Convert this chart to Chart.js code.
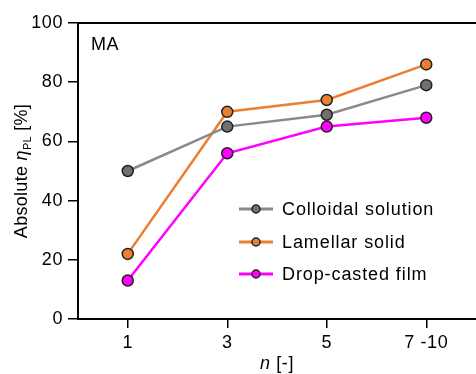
<!DOCTYPE html>
<html>
<head>
<meta charset="utf-8">
<script src="https://cdn.jsdelivr.net/npm/chart.js@4/dist/chart.umd.min.js"></script>
<style>
  html, body { margin: 0; padding: 0; background: #fff; }
  #wrap { width: 476px; height: 374px; position: relative; }
</style>
</head>
<body>
<div id="wrap"><canvas id="c" width="476" height="374"></canvas></div>
<script>
const categories = ['1', '3', '5', '7 -10'];
const colloidal = [50, 65, 69, 79];
const lamellar = [22, 70, 74, 86];
const dropCast = [13, 56, 65, 68];
const yTicks = [0, 20, 40, 60, 80, 100];

const FONT = 'Liberation Sans, Arial, sans-serif';

function series(label, data, line, fill) {
  return {
    label, data,
    borderColor: line, backgroundColor: fill,
    borderWidth: 2.5, tension: 0,
    pointRadius: 5.5, pointBorderWidth: 1.5,
    pointBorderColor: '#222', pointBackgroundColor: fill,
  };
}

const decor = {
  id: 'decor',
  beforeDraw(chart) {
    chart.ctx.letterSpacing = '0.6px';
  },
  afterDraw(chart) {
    const { ctx, chartArea: a } = chart;
    ctx.save();
    ctx.fillStyle = '#000';
    ctx.textBaseline = 'alphabetic';
    // panel label
    ctx.font = '18px ' + FONT;
    ctx.textAlign = 'left';
    ctx.fillText('MA', 91, 50);

    // x title: n [-]
    const cx = (a.left + a.right) / 2;
    ctx.font = 'italic 18px ' + FONT;
    const nW = ctx.measureText('n ').width;
    ctx.font = '18px ' + FONT;
    const rW = ctx.measureText('[-]').width;
    let x0 = cx - (nW + rW) / 2;
    ctx.font = 'italic 18px ' + FONT;
    ctx.fillText('n', x0, 369);
    ctx.font = '18px ' + FONT;
    ctx.fillText('[-]', x0 + nW, 369);

    // y title: Absolute ηPL [%]
    ctx.translate(27, (a.top + a.bottom) / 2);
    ctx.rotate(-Math.PI / 2);
    ctx.letterSpacing = '0.3px';
    const parts = [
      ['Absolute ', '18px ', 0],
      ['η', 'italic 18px ', 0],
      ['PL', '11px ', 4],
      [' [%]', '18px ', 0],
    ];
    let total = 0;
    parts.forEach(p => { ctx.font = p[1] + FONT; total += ctx.measureText(p[0]).width; });
    let px = -total / 2;
    parts.forEach(p => {
      ctx.font = p[1] + FONT;
      ctx.fillText(p[0], px, p[2]);
      px += ctx.measureText(p[0]).width;
    });
    ctx.restore();

    // legend
    ctx.save();
    const rows = [209, 242, 274];
    chart.data.datasets.forEach((ds, i) => {
      const y = rows[i];
      ctx.strokeStyle = ds.borderColor;
      ctx.lineWidth = 3;
      ctx.beginPath();
      ctx.moveTo(239, y);
      ctx.lineTo(273, y);
      ctx.stroke();
      ctx.beginPath();
      ctx.arc(256, y, 4, 0, Math.PI * 2);
      ctx.fillStyle = ds.pointBackgroundColor;
      ctx.fill();
      ctx.lineWidth = 1.5;
      ctx.strokeStyle = '#222';
      ctx.stroke();
      ctx.fillStyle = '#000';
      ctx.font = '18px ' + FONT;
      ctx.letterSpacing = '0.9px';
      ctx.textAlign = 'left';
      ctx.textBaseline = 'middle';
      ctx.fillText(ds.label, 282, y + 1);
    });
    ctx.restore();
  }
};

new Chart(document.getElementById('c').getContext('2d'), {
  type: 'line',
  data: {
    labels: categories,
    datasets: [
      series('Colloidal solution', colloidal, '#8a8a8a', '#707070'),
      series('Lamellar solid', lamellar, '#ed7d31', '#ed7d31'),
      series('Drop-casted film', dropCast, '#ff00ff', '#ff00ff'),
    ],
  },
  options: {
    responsive: false,
    animation: false,
    layout: { autoPadding: false, padding: { top: 23, right: -2, left: 0, bottom: 0 } },
    plugins: { legend: { display: false }, tooltip: { enabled: false } },
    scales: {
      x: {
        offset: true,
        grid: { display: true, drawOnChartArea: false, drawTicks: true, tickLength: 9, color: '#000', lineWidth: 1.5, offset: false },
        border: { display: true, color: '#000', width: 2 },
        ticks: { color: '#000', font: { size: 18, family: FONT }, padding: 4, maxRotation: 0 },
        afterFit: (s) => { s.height = 55; s.paddingLeft = 0; s.paddingRight = 0; },
      },
      y: {
        min: 0, max: 100,
        afterBuildTicks: (s) => { s.ticks = yTicks.map(v => ({ value: v })); },
        grid: { display: true, drawOnChartArea: false, drawTicks: true, tickLength: 10, color: '#000', lineWidth: 1.5 },
        border: { display: true, color: '#000', width: 2 },
        ticks: { color: '#000', font: { size: 18, family: FONT }, padding: 5 },
        afterFit: (s) => { s.width = 78; s.paddingTop = 0; s.paddingBottom = 0; },
      },
    },
  },
  plugins: [decor, {
    id: 'topBorder',
    afterDraw(chart) {
      const { ctx, chartArea: a } = chart;
      ctx.save();
      ctx.strokeStyle = '#000';
      ctx.lineWidth = 2;
      ctx.beginPath();
      ctx.moveTo(a.left, a.top);
      ctx.lineTo(476, a.top);
      ctx.stroke();
      ctx.restore();
    }
  }],
});
</script>
</body>
</html>
